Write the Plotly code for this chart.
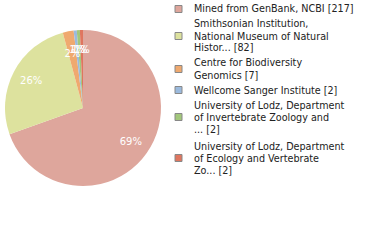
import plotly.graph_objects as go

labels = ["Mined from GenBank, NCBI",
          "Smithsonian Institution, National Museum of Natural Histor...",
          "Centre for Biodiversity Genomics",
          "Wellcome Sanger Institute",
          "University of Lodz, Department of Invertebrate Zoology and ...",
          "University of Lodz, Department of Ecology and Vertebrate Zo..."]
values = [217, 82, 7, 2, 2, 2]
pct_labels = ["69%", "26%", "2%", "1%", "1%", "1%"]
colors = ["#dea69c", "#dde29e", "#efa96f", "#9bbadd", "#a2c77b", "#df765f"]
legend_lines = [
    ["Mined from GenBank, NCBI [217]"],
    ["Smithsonian Institution,", "National Museum of Natural", "Histor... [82]"],
    ["Centre for Biodiversity", "Genomics [7]"],
    ["Wellcome Sanger Institute [2]"],
    ["University of Lodz, Department", "of Invertebrate Zoology and", "... [2]"],
    ["University of Lodz, Department", "of Ecology and Vertebrate", "Zo... [2]"],
]

W, H = 380, 240
FONT = "DejaVu Sans Condensed, DejaVu Sans, sans-serif"
PFONT = "DejaVu Sans, sans-serif"
CX, CY, R = 83, 108, 78          # pie centre / radius in px
RS = 59.5                        # radius used for the tiny-slice labels


def dom(r):
    return dict(x=[(CX - r) / W, (CX + r) / W], y=[1 - (CY + r) / H, 1 - (CY - r) / H])


total = sum(values)
big = [v / total >= 0.05 for v in values]
big_text = [t if b else "" for t, b in zip(pct_labels, big)]
small_text = ["" if b else t for t, b in zip(pct_labels, big)]

fig = go.Figure()
# filled pie (no text)
fig.add_trace(go.Pie(
    labels=labels, values=values, sort=False, direction="clockwise", rotation=0,
    marker=dict(colors=colors, line=dict(width=0)),
    textinfo="none", domain=dom(R), showlegend=False,
    hoverinfo="label+value+percent",
))
# transparent ring carrying the large percent labels at ~3/4 radius
fig.add_trace(go.Pie(
    labels=labels, values=values, sort=False, direction="clockwise", rotation=0,
    hole=0.5,
    marker=dict(colors=["rgba(0,0,0,0)"] * len(values), line=dict(width=0)),
    text=big_text, textinfo="text", textposition="inside",
    insidetextorientation="horizontal",
    textfont=dict(family=PFONT, size=10, color="white"),
    domain=dom(R), showlegend=False, hoverinfo="skip",
))
# transparent smaller pie carrying the tiny-slice labels
fig.add_trace(go.Pie(
    labels=labels, values=values, sort=False, direction="clockwise", rotation=0,
    marker=dict(colors=["rgba(0,0,0,0)"] * len(values), line=dict(width=0)),
    text=small_text, textinfo="text", textposition="inside",
    insidetextorientation="horizontal",
    textfont=dict(family=PFONT, size=10, color="white"),
    domain=dom(RS), showlegend=False, hoverinfo="skip",
))

shapes = []
annotations = []
line_h = 12
y_top = [9, 24, 63, 90, 105, 146]
for i, lines in enumerate(legend_lines):
    n = len(lines)
    for j, t in enumerate(lines):
        y = y_top[i] + j * line_h
        annotations.append(dict(
            x=192 / W, y=1 - y / H, xref="paper", yref="paper",
            xanchor="left", yanchor="middle", text=t, showarrow=False,
            font=dict(family=FONT, size=10.7, color="#222222")))
    yc = y_top[i] + (n - 1) * line_h / 2
    shapes.append(dict(type="rect", xref="paper", yref="paper",
                       x0=175 / W, x1=182 / W,
                       y0=1 - (yc + 3.5) / H, y1=1 - (yc - 3.5) / H,
                       fillcolor=colors[i], line=dict(color="#888888", width=1)))

fig.update_layout(width=W, height=H, margin=dict(l=0, r=0, t=0, b=0),
                  paper_bgcolor="white", plot_bgcolor="white",
                  uniformtext=dict(minsize=10, mode="show"),
                  shapes=shapes, annotations=annotations)
fig.write_html("out.html")
